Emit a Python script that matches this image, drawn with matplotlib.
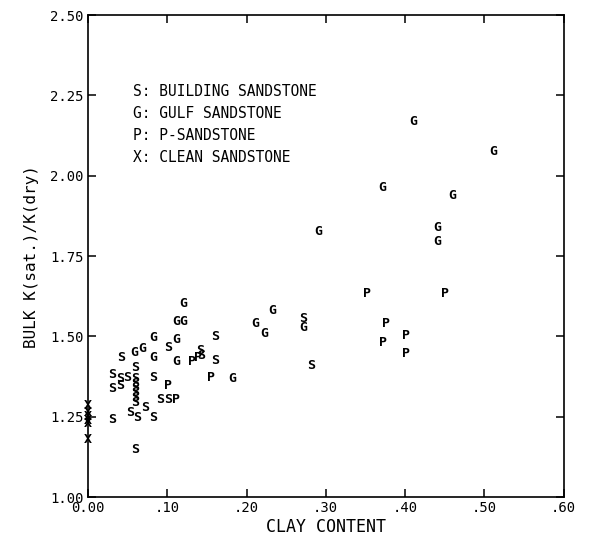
import matplotlib
matplotlib.use('Agg')
import matplotlib.pyplot as plt

plt.rcParams['font.family'] = ['DejaVu Sans Mono', 'DejaVu Sans']

# ---------------------- DATA ----------------------

# S: building sandstone
s_clay = [0.031, 0.031, 0.040, 0.040, 0.050, 0.042, 0.060,
          0.060, 0.060, 0.060, 0.060, 0.060, 0.060,
          0.082, 0.101, 0.091, 0.101, 0.141, 0.143, 0.161, 0.161,
          0.271, 0.281, 0.031, 0.053, 0.062, 0.072, 0.082, 0.060]
s_ratio = [1.380, 1.339, 1.370, 1.348, 1.373, 1.433, 1.404,
           1.370, 1.355, 1.340, 1.325, 1.310, 1.295,
           1.373, 1.464, 1.305, 1.305, 1.457, 1.440, 1.501, 1.426,
           1.557, 1.411, 1.240, 1.264, 1.249, 1.280, 1.249, 1.149]

# G: gulf sandstone
g_clay = [0.082, 0.059, 0.069, 0.082, 0.112, 0.112, 0.120, 0.120, 0.112,
          0.182, 0.211, 0.222, 0.232, 0.271, 0.291, 0.371, 0.410, 0.440,
          0.440, 0.460, 0.511]
g_ratio = [1.498, 1.451, 1.461, 1.433, 1.492, 1.545, 1.545, 1.604, 1.423,
           1.370, 1.541, 1.510, 1.582, 1.529, 1.825, 1.962, 2.170, 1.840,
           1.794, 1.937, 2.077]

# P: p-sandstone
p_clay = [0.101, 0.111, 0.131, 0.139, 0.155, 0.352, 0.450, 0.376, 0.372,
          0.401, 0.401]
p_ratio = [1.348, 1.305, 1.423, 1.435, 1.373, 1.635, 1.635, 1.541, 1.482,
           1.504, 1.448]

# X: clean sandstone
x_clay = [0.0, 0.0, 0.0, 0.0, 0.0, 0.0]
x_ratio = [1.285, 1.262, 1.250, 1.238, 1.228, 1.178]

series = [('S', s_clay, s_ratio), ('G', g_clay, g_ratio),
          ('P', p_clay, p_ratio), ('X', x_clay, x_ratio)]

legend_lines = ['S: BUILDING SANDSTONE', 'G: GULF SANDSTONE',
                'P: P-SANDSTONE', 'X: CLEAN SANDSTONE']

x_ticks = [0.0, 0.1, 0.2, 0.3, 0.4, 0.5, 0.6]
x_labels = ['0.00', '.10', '.20', '.30', '.40', '.50', '.60']
y_ticks = [1.00, 1.25, 1.50, 1.75, 2.00, 2.25, 2.50]
y_labels = ['1.00', '1.25', '1.50', '1.75', '2.00', '2.25', '2.50']

# ---------------------- PLOT ----------------------

fig = plt.figure(figsize=(5.94, 5.38), dpi=100)
ax = fig.add_axes([0.148, 0.076, 0.801, 0.896])

for letter, xs, ys in series:
    for xv, yv in zip(xs, ys):
        ax.text(xv, yv, letter, ha='center', va='center', fontsize=9.5,
                fontweight='bold', color='black', clip_on=False)

for i, line in enumerate(legend_lines):
    ax.text(0.094, 0.842 - i * 0.0457, line, transform=ax.transAxes,
            ha='left', va='center', fontsize=10.5)

ax.set_xlim(0, 0.6)
ax.set_ylim(1.0, 2.5)
ax.set_xticks(x_ticks)
ax.set_xticklabels(x_labels)
ax.set_yticks(y_ticks)
ax.set_yticklabels(y_labels)
ax.tick_params(direction='in', length=6, width=1.1, top=True, right=True,
               labelsize=10, pad=3)

for sp in ax.spines.values():
    sp.set_linewidth(1.2)

ax.set_xlabel('CLAY CONTENT', fontsize=12, labelpad=2)
ax.set_ylabel('BULK K(sat.)/K(dry)', fontsize=11.5, labelpad=8)

fig.savefig('out.png', dpi=100)
